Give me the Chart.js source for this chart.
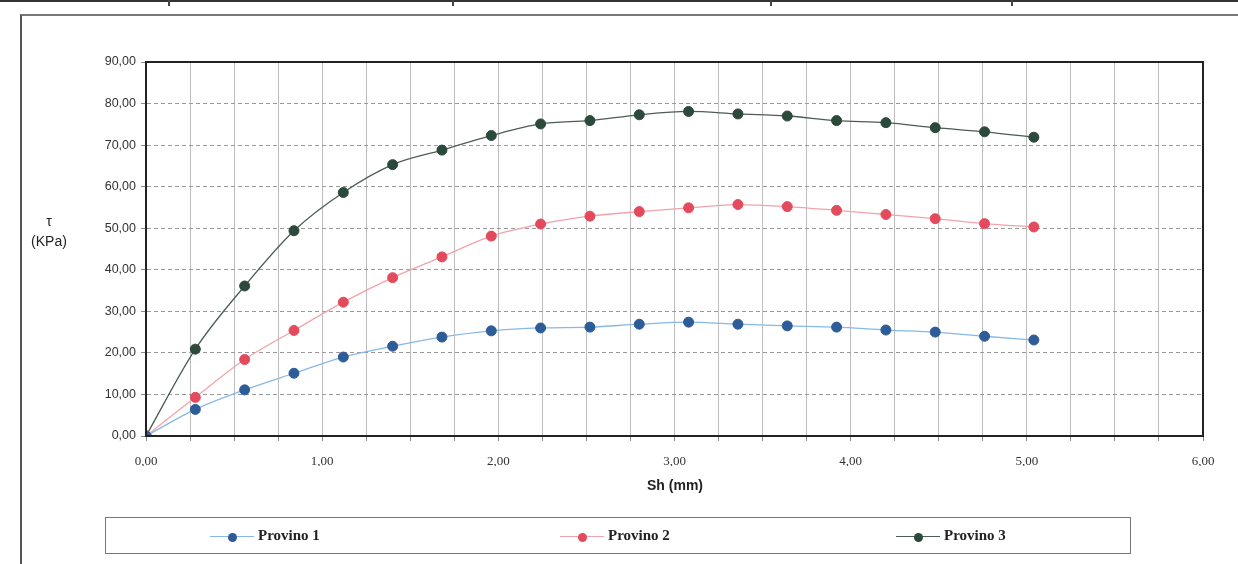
<!DOCTYPE html>
<html>
<head>
<meta charset="utf-8">
<script src="https://cdn.jsdelivr.net/npm/chart.js@4.4.1/dist/chart.umd.min.js"></script>
<style>
  html, body { margin: 0; padding: 0; background: #fff; }
  body { width: 1238px; height: 564px; position: relative; overflow: hidden; font-family: "Liberation Sans", Arial, sans-serif; }
  #topRule { position: absolute; left: 0; top: 0; width: 1238px; height: 2px; background: #333; }
  .stub { position: absolute; top: 0; width: 2px; height: 6px; background: #444; }
  #frame { position: absolute; left: 20px; top: 14px; width: 1230px; height: 560px; border-left: 2px solid #555; border-top: 2px solid #777; }
  #chartBox { position: absolute; left: 0; top: 0; width: 1238px; height: 564px; }
  .ytitle { position: absolute; left: 24px; width: 50px; text-align: center; font-size: 14px; color: #222; }
  #xtitle { position: absolute; left: 600px; width: 150px; top: 477px; text-align: center; font-size: 14px; font-weight: bold; color: #222; }
  #legend { position: absolute; left: 105px; top: 517px; width: 1026px; height: 37px; border: 1px solid #777; box-sizing: border-box; }
  .item { position: absolute; top: 9px; height: 18px; font-family: "Liberation Serif", "Times New Roman", serif; font-weight: bold; font-size: 15px; color: #222; white-space: nowrap; }
  .item .sw { display: inline-block; position: relative; width: 44px; height: 18px; vertical-align: middle; margin-right: 4px; }
  .item .sw .ln { position: absolute; left: 0; right: 0; top: 8px; height: 1px; }
  .item .sw .dt { position: absolute; left: 18px; top: 5px; width: 9px; height: 9px; border-radius: 50%; }
</style>
</head>
<body>
<div id="topRule"></div>
<div class="stub" style="left:168px"></div>
<div class="stub" style="left:452px"></div>
<div class="stub" style="left:770px"></div>
<div class="stub" style="left:1011px"></div>
<div id="frame"></div>
<div id="chartBox"><canvas id="c" width="1238" height="564"></canvas></div>
<div class="ytitle" style="top:213px">τ</div>
<div class="ytitle" style="top:233px">(KPa)</div>
<div id="xtitle">Sh (mm)</div>
<div id="legend"></div>
<script>
// Horizontal displacement Sh (mm) at each reading
const shiftMM = [0, 0.28, 0.56, 0.84, 1.12, 1.40, 1.68, 1.96, 2.24, 2.52, 2.80, 3.08, 3.36, 3.64, 3.92, 4.20, 4.48, 4.76, 5.04];

// Shear stress τ (KPa) for each specimen
const provino1 = [0, 6.4, 11.1, 15.1, 19.0, 21.6, 23.8, 25.3, 26.0, 26.2, 26.9, 27.4, 26.9, 26.5, 26.2, 25.5, 25.0, 24.0, 23.1];
const provino2 = [0, 9.3, 18.4, 25.4, 32.2, 38.1, 43.1, 48.1, 51.0, 52.9, 54.0, 54.9, 55.7, 55.2, 54.3, 53.3, 52.3, 51.1, 50.3];
const provino3 = [0, 20.9, 36.1, 49.4, 58.6, 65.3, 68.8, 72.3, 75.1, 75.9, 77.3, 78.1, 77.5, 77.0, 75.9, 75.4, 74.2, 73.2, 71.9];

const seriesNames = ["Provino 1", "Provino 2", "Provino 3"];

// Axis ranges
const xMin = 0, xMax = 6, xStep = 0.25;
const yMin = 0, yMax = 90, yStep = 10;

const fmt = v => v.toFixed(2).replace('.', ',');
const pts = arr => arr.map((v, i) => ({ x: shiftMM[i], y: v }));

const styles = [
  { line: '#86b9e6', point: '#2d5c98' },
  { line: '#f1a3ab', point: '#e34b5d' },
  { line: '#4d5c54', point: '#2b4a3b' }
];

const datasets = [provino1, provino2, provino3].map((d, i) => ({
  label: seriesNames[i],
  data: pts(d),
  borderColor: styles[i].line,
  backgroundColor: styles[i].point,
  pointBackgroundColor: styles[i].point,
  pointBorderColor: styles[i].point,
  pointRadius: 5,
  pointBorderWidth: 1,
  borderWidth: 1.3,
  tension: 0.35,
  cubicInterpolationMode: 'monotone',
  showLine: true
}));

// Full black frame around the plotting area
const plotFrame = {
  id: 'plotFrame',
  afterDraw(chart) {
    const { ctx, chartArea: a } = chart;
    ctx.save();
    ctx.strokeStyle = '#222';
    ctx.lineWidth = 2;
    ctx.strokeRect(a.left, a.top, a.right - a.left, a.bottom - a.top);
    ctx.restore();
  }
};

const chart = new Chart(document.getElementById('c'), {
  type: 'scatter',
  data: { datasets },
  plugins: [plotFrame],
  options: {
    responsive: false,
    animation: false,
    layout: { padding: { left: 0, top: 62, right: 35, bottom: 98 } },
    plugins: { legend: { display: false }, tooltip: { enabled: false } },
    scales: {
      x: {
        type: 'linear', min: xMin, max: xMax,
        afterFit(s) { s.height = 30; },
        ticks: {
          stepSize: xStep, autoSkip: false, maxRotation: 0, padding: 13,
          color: '#333',
          font: { family: '"Liberation Serif", "Times New Roman", serif', size: 13 },
          callback: v => (Math.abs(v - Math.round(v)) < 1e-9 ? fmt(v) : '')
        },
        grid: { color: '#bdbdbd', lineWidth: 1, tickLength: 5, tickColor: '#888' },
        border: { color: '#222', width: 2 }
      },
      y: {
        type: 'linear', min: yMin, max: yMax,
        afterFit(s) { s.width = 146; },
        ticks: {
          stepSize: yStep, padding: 5,
          color: '#333',
          font: { family: '"Liberation Sans", Arial, sans-serif', size: 12.5 },
          callback: v => fmt(v)
        },
        grid: { color: '#9a9a9a', lineWidth: 1, tickLength: 5, tickColor: '#888' },
        border: { color: '#222', width: 2, dash: [4, 3] }
      }
    }
  }
});

// Legend built from the chart's datasets
const legend = document.getElementById('legend');
const legendLeft = [104, 454, 790];
chart.data.datasets.forEach((ds, i) => {
  const item = document.createElement('div');
  item.className = 'item';
  item.style.left = legendLeft[i] + 'px';
  item.innerHTML = '<span class="sw"><span class="ln" style="background:' + ds.borderColor + '"></span>' +
    '<span class="dt" style="background:' + ds.pointBackgroundColor + '"></span></span>' + ds.label;
  legend.appendChild(item);
});
</script>
</body>
</html>
